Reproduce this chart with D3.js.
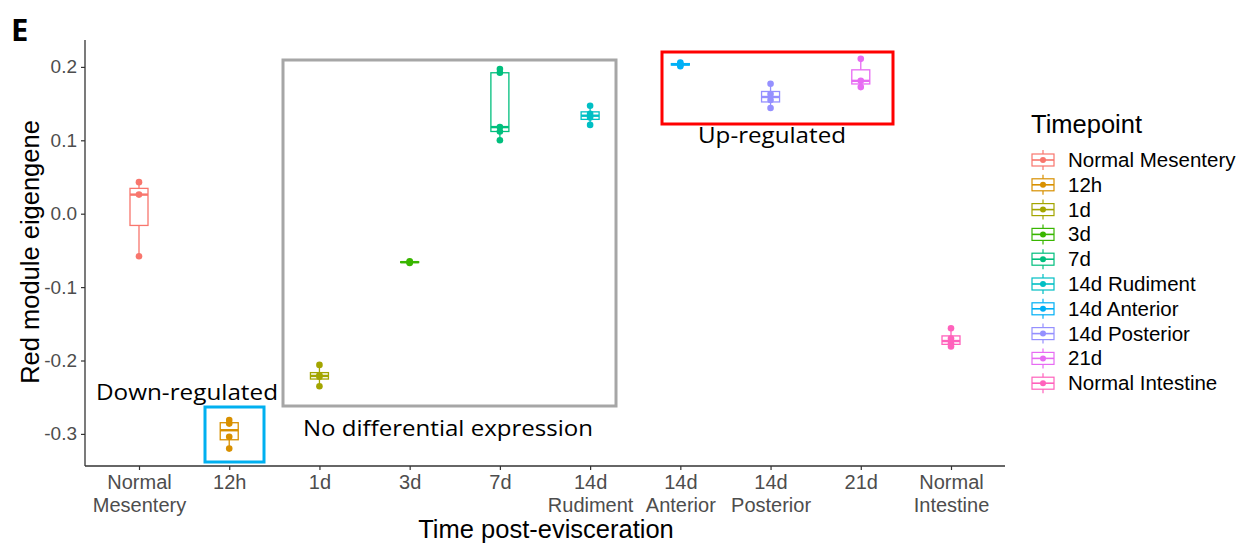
<!DOCTYPE html>
<html><head><meta charset="utf-8">
<script src="https://cdn.jsdelivr.net/npm/d3@7/dist/d3.min.js"></script>
<style>body{margin:0;background:#fff}svg{display:block}</style>
</head><body>
<svg id="c" width="1243" height="544"></svg>
<script>
const categories = ["Normal Mesentery","12h","1d","3d","7d","14d Rudiment","14d Anterior","14d Posterior","21d","Normal Intestine"];
const tickLabels = [["Normal","Mesentery"],["12h"],["1d"],["3d"],["7d"],["14d","Rudiment"],["14d","Anterior"],["14d","Posterior"],["21d"],["Normal","Intestine"]];
const colors = ["#F8766D","#D89000","#A3A500","#39B600","#00BF7D","#00BFC4","#00B0F6","#9590FF","#E76BF3","#FF62BC"];
const normalMesentery = [-0.058, 0.026, 0.043];
const h12 = [-0.320, -0.304, -0.286, -0.281];
const d1 = [-0.235, -0.222, -0.220, -0.206];
const d3v = [-0.067, -0.066, -0.065];
const d7 = [0.100, 0.112, 0.118, 0.192, 0.197];
const d14Rudiment = [0.121, 0.131, 0.136, 0.147];
const d14Anterior = [0.201, 0.203, 0.204, 0.206];
const d14Posterior = [0.144, 0.155, 0.163, 0.177];
const d21 = [0.1725, 0.181, 0.211];
const normalIntestine = [-0.181, -0.177, -0.170, -0.156];
const yTicks = [-0.3, -0.2, -0.1, 0.0, 0.1, 0.2];
const seriesValues = [normalMesentery,h12,d1,d3v,d7,d14Rudiment,d14Anterior,d14Posterior,d21,normalIntestine];

const svg = d3.select("#c");
const x = d3.scalePoint().domain(categories).range([139, 951]);
const y = d3.scaleLinear().domain([-0.3, 0.2]).range([433.9, 66.9]);
const font = "'Liberation Sans', Arial, sans-serif";

// axes
const yAxis = svg.append("g").attr("transform","translate(85,0)")
  .call(d3.axisLeft(y).tickValues(yTicks).tickFormat(d3.format(".1f")).tickSize(4).tickSizeOuter(0));
yAxis.select(".domain").remove();
svg.append("line").attr("x1",85).attr("x2",85).attr("y1",40).attr("y2",466).attr("stroke","#333").attr("stroke-width",1.3);
yAxis.selectAll(".tick line").attr("stroke","#333").attr("stroke-width",1.2);
yAxis.selectAll(".tick text").attr("fill","#4D4D4D").attr("font-size",19).attr("font-family",font).attr("x",-8)
  .text(d => d3.format(".1f")(d).replace("−","-"));

const xAxis = svg.append("g").attr("transform","translate(0,466)")
  .call(d3.axisBottom(x).tickSize(4).tickSizeOuter(0).tickFormat(""));
xAxis.select(".domain").remove();
svg.append("line").attr("x1",85).attr("x2",1005).attr("y1",466).attr("y2",466).attr("stroke","#333").attr("stroke-width",1.3);
xAxis.selectAll(".tick line").attr("stroke","#333").attr("stroke-width",1.2);
xAxis.selectAll(".tick").each(function(d,i){
  const t = d3.select(this).append("text").attr("fill","#4D4D4D").attr("font-size",20).attr("font-family",font)
    .attr("text-anchor","middle").attr("y",23);
  tickLabels[i].forEach((s,j)=>t.append("tspan").attr("x",0).attr("dy", j===0?0:23).text(s));
});

svg.append("text").attr("x",546).attr("y",538).attr("text-anchor","middle").attr("font-size",25.5).attr("font-family",font).attr("fill","#000").text("Time post-evisceration");
svg.append("text").attr("transform","translate(39,252) rotate(-90)").attr("text-anchor","middle").attr("font-size",25.5).attr("font-family",font).attr("fill","#000").text("Red module eigengene");

// boxplots
const bw = 18;
seriesValues.forEach((vals,i)=>{
  const s = vals.slice().sort(d3.ascending);
  const q1 = d3.quantile(s,0.25), med = d3.quantile(s,0.5), q3 = d3.quantile(s,0.75);
  const iqr = q3-q1;
  const lo = d3.min(s.filter(v=>v>=q1-1.5*iqr)), hi = d3.max(s.filter(v=>v<=q3+1.5*iqr));
  const cx = x(categories[i]), c = colors[i];
  const g = svg.append("g");
  g.append("line").attr("x1",cx).attr("x2",cx).attr("y1",y(hi)).attr("y2",y(q3)).attr("stroke",c).attr("stroke-width",1.3);
  g.append("line").attr("x1",cx).attr("x2",cx).attr("y1",y(q1)).attr("y2",y(lo)).attr("stroke",c).attr("stroke-width",1.3);
  g.append("rect").attr("x",cx-bw/2).attr("y",y(q3)).attr("width",bw).attr("height",Math.max(0.01,y(q1)-y(q3)))
    .attr("fill","none").attr("stroke",c).attr("stroke-width",1.3);
  g.append("line").attr("x1",cx-bw/2).attr("x2",cx+bw/2).attr("y1",y(med)).attr("y2",y(med)).attr("stroke",c).attr("stroke-width",2.4);
  g.selectAll("circle").data(vals).join("circle").attr("cx",cx).attr("cy",d=>y(d)).attr("r",3.3).attr("fill",c);
});

// annotation boxes
svg.append("rect").attr("x",283).attr("y",60).attr("width",333).attr("height",346).attr("fill","none").attr("stroke","#A6A6A6").attr("stroke-width",3);
svg.append("rect").attr("x",205).attr("y",407).attr("width",59).attr("height",55).attr("fill","none").attr("stroke","#00B0F0").attr("stroke-width",3);
svg.append("rect").attr("x",662).attr("y",52).attr("width",231).attr("height",72).attr("fill","none").attr("stroke","#FF0000").attr("stroke-width",3);

const afont = "'Open Sans', 'Noto Sans', sans-serif";
svg.append("text").attr("x",96).attr("y",400).attr("font-size",22).attr("font-family",afont).attr("textLength",182).attr("lengthAdjust","spacingAndGlyphs").text("Down-regulated");
svg.append("text").attr("x",303).attr("y",436).attr("font-size",22).attr("font-family",afont).attr("textLength",290).attr("lengthAdjust","spacingAndGlyphs").text("No differential expression");
svg.append("text").attr("x",698).attr("y",143).attr("font-size",22).attr("font-family",afont).attr("textLength",148).attr("lengthAdjust","spacingAndGlyphs").text("Up-regulated");
svg.append("text").attr("x",11).attr("y",41).attr("font-size",31).attr("font-weight","bold").attr("font-family",afont).text("E");

// legend
const lg = svg.append("g");
lg.append("text").attr("x",1031).attr("y",133).attr("font-size",25.5).attr("font-family",font).text("Timepoint");
categories.forEach((cat,i)=>{
  const yy = 160 + i*24.8, c = colors[i], kx = 1043;
  const g = lg.append("g");
  g.append("line").attr("x1",kx).attr("x2",kx).attr("y1",yy-10).attr("y2",yy+10).attr("stroke",c).attr("stroke-width",1.2);
  g.append("rect").attr("x",kx-11).attr("y",yy-6).attr("width",22).attr("height",12).attr("fill","#fff").attr("stroke",c).attr("stroke-width",1.2);
  g.append("line").attr("x1",kx-11).attr("x2",kx+11).attr("y1",yy).attr("y2",yy).attr("stroke",c).attr("stroke-width",1.6);
  g.append("circle").attr("cx",kx).attr("cy",yy).attr("r",3).attr("fill",c);
  g.append("text").attr("x",1068).attr("y",yy+7).attr("font-size",20.5).attr("font-family",font).attr("fill","#000").text(cat);
});
</script>
</body></html>
